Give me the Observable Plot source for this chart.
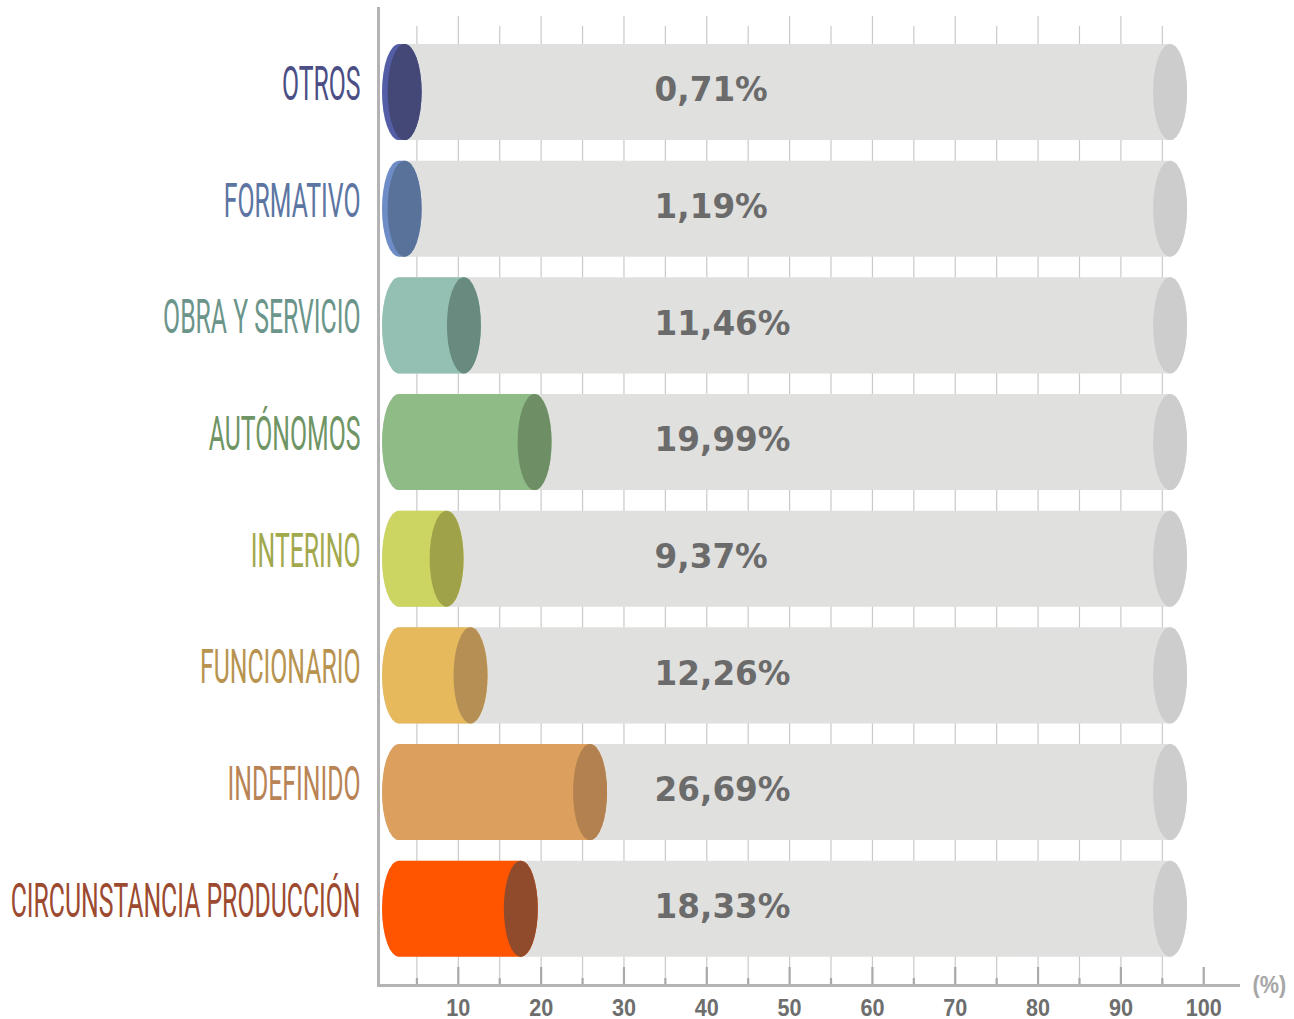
<!DOCTYPE html>
<html>
<head>
<meta charset="utf-8">
<script src="https://cdn.jsdelivr.net/npm/d3@7"></script>
<script src="https://cdn.jsdelivr.net/npm/@observablehq/plot@0.6"></script>
<style>
  html, body { margin: 0; padding: 0; background: #ffffff; }
  #chart svg { display: block; }
</style>
</head>
<body>
<div id="chart"></div>
<script>
// ---------- data ----------
const categories = ["OTROS", "FORMATIVO", "OBRA Y SERVICIO", "AUTÓNOMOS", "INTERINO", "FUNCIONARIO", "INDEFINIDO", "CIRCUNSTANCIA PRODUCCIÓN"];
const values = [0.71, 1.19, 11.46, 19.99, 9.37, 12.26, 26.69, 18.33];
const valueLabels = ["0,71%", "1,19%", "11,46%", "19,99%", "9,37%", "12,26%", "26,69%", "18,33%"];
const bodyColors = ["#545ea6", "#6e8cc6", "#93c0b3", "#8fbb86", "#cdd562", "#e5b95c", "#dc9f5e", "#ff5500"];
const capColors = ["#434876", "#58729a", "#688a7f", "#6e8f66", "#a0a24a", "#b68f55", "#b3804f", "#904a2c"];
const labelColors = ["#4b4f85", "#5c75a3", "#6b958a", "#6f9565", "#a2a84c", "#b8934f", "#b98455", "#9c4a30"];
const xTicks = [10, 20, 30, 40, 50, 60, 70, 80, 90, 100];
const minorTicks = [5, 15, 25, 35, 45, 55, 65, 75, 85, 95];
const gridMajor = [10, 20, 30, 40, 50, 60, 70, 80, 90];
const axisUnit = "(%)";

// ---------- layout / style constants ----------
const W = 1294, H = 1019;
const mT = 7, mB = 34, mL = 375, mR = 56;
const frameH = H - mT - mB;
const capR = 17;          // horizontal radius of the cylinder ellipses (px)
const depthShift = 6;     // perspective shift of the cylinder end caps (px)
const cylStart = 2.9;     // left cap centre of each cylinder (axis units)
const minEnd = 4.3;       // minimal visible cylinder end
const trackEnd = 96;      // grey track end
const labelX = 33.7;      // value labels left anchor (axis units)

const rows = categories.map((c, i) => ({
  category: c,
  value: values[i],
  end: Math.max(values[i], minEnd),
  label: valueLabels[i],
  body: bodyColors[i],
  cap: capColors[i],
  labelColor: labelColors[i]
}));

const chart = Plot.plot({
  width: W,
  height: H,
  marginTop: mT,
  marginBottom: mB,
  marginLeft: mL,
  marginRight: mR,
  style: { background: "#ffffff", overflow: "visible" },
  x: { domain: [0, 104.2], axis: null },
  y: { domain: categories, axis: null, paddingInner: 0.177, paddingOuter: 0.28, align: 0.567, round: false },
  color: { type: "identity" },
  marks: [
    // grid lines
    Plot.ruleX(minorTicks, { x: d => d, insetTop: 19, stroke: "#c9c9c9", strokeWidth: 1.2 }),
    Plot.ruleX(gridMajor, { x: d => d, insetTop: 9, stroke: "#c9c9c9", strokeWidth: 1.2 }),
    // ticks at the bottom axis
    Plot.ruleX(xTicks, { x: d => d, insetTop: frameH - 18, stroke: "#a9a9a9", strokeWidth: 2.2 }),
    Plot.ruleX(minorTicks, { x: d => d, insetTop: frameH - 7, stroke: "#a9a9a9", strokeWidth: 2.2 }),
    // axis lines
    Plot.ruleX([0], { x: d => d, dx: 3, stroke: "#b3b3b3", strokeWidth: 3 }),
    Plot.frame({ anchor: "bottom", stroke: "#b3b3b3", strokeWidth: 3, insetLeft: 3 }),
    // grey track cylinders
    Plot.barX(rows, { y: "category", x1: () => cylStart, x2: () => trackEnd, fill: "#e0e0df",
      insetLeft: -capR, insetRight: -capR, rx: capR, ry: 100 }),
    Plot.barX(rows, { y: "category", x1: () => trackEnd, x2: () => trackEnd, fill: "#cdcdcd",
      insetLeft: -capR, insetRight: -capR, rx: capR, ry: 100 }),
    // value cylinders
    Plot.barX(rows, { y: "category", x1: () => cylStart, x2: "end", fill: "body",
      insetLeft: -capR, insetRight: -(capR - depthShift), rx: capR, ry: 100 }),
    Plot.barX(rows, { y: "category", x1: "end", x2: "end", fill: "cap", dx: -depthShift,
      insetLeft: -capR, insetRight: -capR, rx: capR, ry: 100 }),
    // value labels
    Plot.text(rows, { y: "category", x: () => labelX, text: "label", textAnchor: "start", lineAnchor: "middle",
      dy: -2, fontFamily: "DejaVu Sans", fontWeight: "bold", fontSize: 34, fill: "#6b6b6b" }),
    // category labels
    Plot.text(rows, { y: "category", frameAnchor: "left", dx: -15, dy: -8, text: "category",
      textAnchor: "end", lineAnchor: "middle", fontFamily: "Roboto", fontWeight: 400, fontSize: 48, fill: "labelColor" }),
    // x axis labels
    Plot.axisX({ ticks: xTicks, tickSize: 0, tickPadding: 13, fontSize: 24, fontWeight: "bold",
      fill: "#6e6e6e", fontFamily: "Liberation Sans", label: null }),
    Plot.text([axisUnit], { frameAnchor: "bottom-right", text: d => d, dx: 14, dy: 0, textAnchor: "start",
      lineAnchor: "middle", fontFamily: "Liberation Sans", fontWeight: "bold", fontSize: 24, fill: "#a6a6a6" })
  ]
});

document.getElementById("chart").append(chart);

// ---------- condense the narrow typefaces (horizontal scale about each text's anchor) ----------
function condense(list, k) {
  list.forEach(t => {
    const tr = t.getAttribute("transform");
    if (tr && !t.hasAttribute("x")) {
      t.setAttribute("transform", `${tr} scale(${k.toFixed(4)},1)`);
    } else {
      const len = t.getComputedTextLength();
      t.setAttribute("textLength", (len * k).toFixed(2));
      t.setAttribute("lengthAdjust", "spacingAndGlyphs");
    }
  });
}
const allTexts = Array.from(chart.querySelectorAll("text"));
const catTexts = allTexts.filter(t => categories.includes(t.textContent));
const maxCat = Math.max(...catTexts.map(t => t.getComputedTextLength()));
const labelArea = mL - 15 - 10;
condense(catTexts, labelArea / maxCat);
condense(allTexts.filter(t => /^\d+$/.test(t.textContent)), 0.9);
condense(allTexts.filter(t => valueLabels.includes(t.textContent)), 0.96);
condense(allTexts.filter(t => t.textContent === axisUnit), 0.9);
</script>
</body>
</html>
